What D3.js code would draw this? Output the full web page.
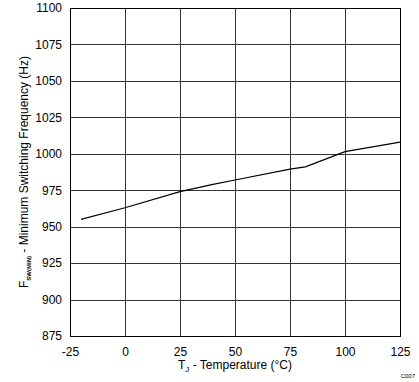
<!DOCTYPE html>
<html><head><meta charset="utf-8">
<script src="https://cdn.jsdelivr.net/npm/d3@7"></script>
<style>body{margin:0;background:#fff}svg{display:block}text{font-family:"Liberation Sans",Arial,sans-serif;fill:#000}</style>
</head><body><svg id="c" width="419" height="382"></svg>
<script>
const temps = [-20, 0, 25, 40, 50, 75, 82, 100, 125];
const freqs = [955, 963, 974, 979, 982, 989.5, 991, 1001.5, 1008];
const xTicks = [-25, 0, 25, 50, 75, 100, 125];
const yTicks = [875, 900, 925, 950, 975, 1000, 1025, 1050, 1075, 1100];

const svg = d3.select("#c");
const L = 70, R = 400, T = 8, B = 336;
const x = d3.scaleLinear().domain([-25, 125]).range([L, R]);
const y = d3.scaleLinear().domain([875, 1100]).range([B, T]);

const g = svg.append("g");
g.selectAll(".vg").data(xTicks).join("line")
  .attr("x1", d => Math.round(x(d)) + 0.5).attr("x2", d => Math.round(x(d)) + 0.5)
  .attr("y1", T).attr("y2", B).attr("stroke", "#333").attr("stroke-width", 1);
g.selectAll(".hg").data(yTicks).join("line")
  .attr("y1", d => Math.round(y(d)) + 0.5).attr("y2", d => Math.round(y(d)) + 0.5)
  .attr("x1", L).attr("x2", R).attr("stroke", "#333").attr("stroke-width", 1);
g.append("rect").attr("x", L + 0.5).attr("y", T + 0.5).attr("width", R - L).attr("height", B - T)
  .attr("fill", "none").attr("stroke", "#000").attr("stroke-width", 1);

svg.append("path").datum(temps.map((t, i) => [t, freqs[i]]))
  .attr("d", d3.line().x(d => x(d[0])).y(d => y(d[1])))
  .attr("fill", "none").attr("stroke", "#000").attr("stroke-width", 1.2);

const fmt = d => String(d);
const yAxis = d3.axisLeft(y).tickValues(yTicks).tickFormat(fmt).tickSize(0).tickPadding(8);
svg.append("g").attr("transform", `translate(${L},0)`).call(yAxis)
  .call(s => s.select(".domain").remove())
  .selectAll("text").style("font-size", "12px").attr("font-family", null);

const xAxis = d3.axisBottom(x).tickValues(xTicks).tickFormat(fmt).tickSize(0).tickPadding(11);
svg.append("g").attr("transform", `translate(0,${B})`).call(xAxis)
  .call(s => s.select(".domain").remove())
  .selectAll("text").style("font-size", "12px").attr("font-family", null);

const xl = svg.append("text").attr("x", 235).attr("y", 369).attr("text-anchor", "middle").style("font-size", "12px");
xl.append("tspan").text("T");
xl.append("tspan").attr("dy", 3).style("font-size", "8px").text("J");
xl.append("tspan").attr("dy", -3).text(" - Temperature (°C)");

const yl = svg.append("text").attr("transform", "translate(28,172) rotate(-90)").attr("text-anchor", "middle").style("font-size", "12px");
yl.append("tspan").text("F");
yl.append("tspan").attr("dy", 3).style("font-size", "6px").style("font-weight", "bold").text("SW(MIN)");
yl.append("tspan").attr("dy", -3).text(" - Minimum Switching Frequency (Hz)");

svg.append("text").attr("x", 415).attr("y", 378).attr("text-anchor", "end").style("font-size", "6px").text("C007");
</script></body></html>
